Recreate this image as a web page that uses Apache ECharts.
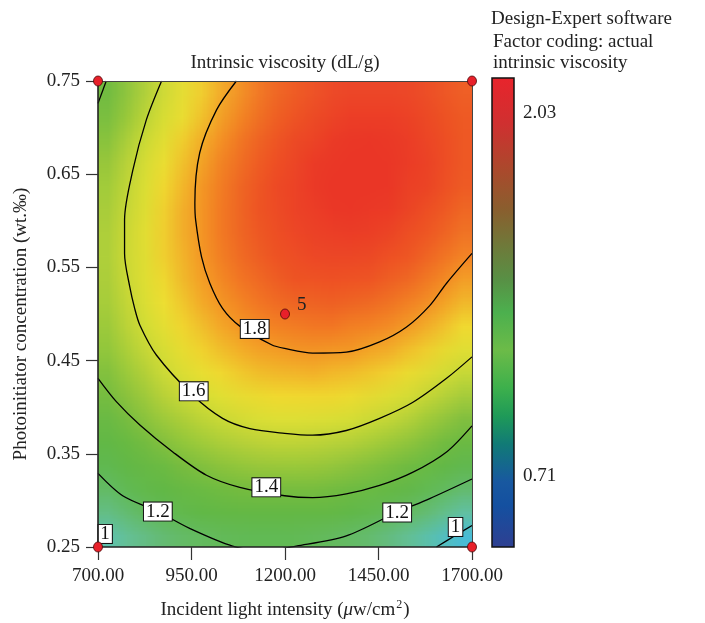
<!DOCTYPE html>
<html><head><meta charset="utf-8">
<script src="https://cdn.jsdelivr.net/npm/echarts@6/dist/echarts.min.js"></script>
<style>
html,body{margin:0;padding:0;background:#fff}
#wrap{position:relative;width:705px;height:623px;overflow:hidden}
#h{position:absolute;left:98px;top:81px;width:20px;height:20px;transform-origin:0 0;transform:scale(18.7,23.3)}
#c{position:absolute;left:0;top:0;width:705px;height:623px;z-index:2}
</style>
</head><body><div id="wrap"><div id="h"></div><div id="c"></div></div>
<script>
// ---- data ----
const heatX = [725,775,825,875,925,975,1025,1075,1125,1175,1225,1275,1325,1375,1425,1475,1525,1575,1625,1675];
const heatY = [0.2625,0.2875,0.3125,0.3375,0.3625,0.3875,0.4125,0.4375,0.4625,0.4875,0.5125,0.5375,0.5625,0.5875,0.6125,0.6375,0.6625,0.6875,0.7125,0.7375];
// rows from bottom (0.2625) to top (0.7375)
const heatValues = [
[1.06,1.10,1.13,1.17,1.19,1.21,1.23,1.24,1.25,1.25,1.25,1.24,1.22,1.20,1.18,1.15,1.11,1.07,1.03,0.98],
[1.13,1.17,1.21,1.25,1.28,1.30,1.32,1.33,1.34,1.34,1.34,1.33,1.32,1.30,1.28,1.25,1.21,1.18,1.13,1.08],
[1.20,1.25,1.29,1.32,1.35,1.38,1.40,1.41,1.42,1.42,1.42,1.42,1.41,1.39,1.37,1.34,1.31,1.27,1.23,1.18],
[1.26,1.31,1.35,1.39,1.42,1.45,1.47,1.48,1.50,1.50,1.50,1.50,1.49,1.47,1.45,1.43,1.40,1.36,1.32,1.28],
[1.32,1.37,1.41,1.45,1.48,1.51,1.53,1.55,1.56,1.57,1.57,1.57,1.56,1.55,1.53,1.51,1.48,1.45,1.41,1.36],
[1.37,1.42,1.47,1.51,1.54,1.57,1.59,1.61,1.63,1.64,1.64,1.64,1.63,1.62,1.60,1.58,1.56,1.52,1.49,1.44],
[1.42,1.47,1.51,1.56,1.59,1.62,1.65,1.67,1.68,1.70,1.70,1.70,1.70,1.69,1.67,1.65,1.63,1.59,1.56,1.52],
[1.45,1.51,1.55,1.60,1.64,1.67,1.70,1.72,1.74,1.75,1.75,1.76,1.75,1.74,1.73,1.71,1.69,1.66,1.63,1.59],
[1.49,1.54,1.59,1.63,1.67,1.71,1.74,1.76,1.78,1.79,1.80,1.81,1.80,1.80,1.78,1.77,1.74,1.72,1.68,1.65],
[1.51,1.57,1.62,1.66,1.71,1.74,1.77,1.80,1.82,1.83,1.84,1.85,1.85,1.84,1.83,1.82,1.80,1.77,1.74,1.70],
[1.53,1.59,1.64,1.69,1.73,1.77,1.80,1.83,1.85,1.87,1.88,1.88,1.89,1.88,1.87,1.86,1.84,1.82,1.79,1.75],
[1.54,1.60,1.66,1.70,1.75,1.79,1.82,1.85,1.87,1.89,1.91,1.91,1.92,1.91,1.91,1.89,1.88,1.85,1.83,1.79],
[1.55,1.61,1.66,1.72,1.76,1.80,1.84,1.87,1.89,1.91,1.93,1.94,1.94,1.94,1.94,1.92,1.91,1.89,1.86,1.83],
[1.55,1.61,1.67,1.72,1.77,1.81,1.85,1.88,1.90,1.93,1.94,1.95,1.96,1.96,1.96,1.95,1.93,1.91,1.89,1.86],
[1.54,1.60,1.66,1.72,1.77,1.81,1.85,1.88,1.91,1.93,1.95,1.96,1.97,1.98,1.97,1.97,1.95,1.93,1.91,1.88],
[1.53,1.59,1.65,1.71,1.76,1.81,1.85,1.88,1.91,1.94,1.95,1.97,1.98,1.98,1.98,1.98,1.96,1.95,1.93,1.90],
[1.51,1.58,1.64,1.70,1.75,1.79,1.84,1.87,1.90,1.93,1.95,1.97,1.98,1.98,1.98,1.98,1.97,1.96,1.94,1.91],
[1.48,1.55,1.62,1.67,1.73,1.78,1.82,1.86,1.89,1.92,1.94,1.96,1.97,1.98,1.98,1.98,1.97,1.96,1.94,1.91],
[1.45,1.52,1.59,1.65,1.70,1.75,1.80,1.84,1.87,1.90,1.93,1.94,1.96,1.97,1.97,1.97,1.96,1.95,1.93,1.91],
[1.41,1.48,1.55,1.61,1.67,1.72,1.77,1.81,1.85,1.88,1.90,1.92,1.94,1.95,1.95,1.95,1.95,1.94,1.92,1.90]
];
const xTicks = [700,950,1200,1450,1700];
const yTicks = [0.25,0.35,0.45,0.55,0.65,0.75];
const contour18 = [[1070,0.75],[1017,0.719],[972,0.673],[959,0.619],[961,0.601],[977,0.561],[999,0.533],[1033,0.506],[1079,0.487],[1164,0.467],[1199,0.463],[1274,0.458],[1364,0.459],[1453,0.470],[1525,0.486],[1587,0.509],[1632,0.533],[1700,0.565]];
const contour16 = [[870,0.75],[829,0.708],[793,0.654],[771,0.601],[771,0.565],[785,0.529],[798,0.506],[812,0.488],[856,0.456],[953,0.413],[1033,0.388],[1106,0.377],[1199,0.372],[1274,0.370],[1364,0.375],[1453,0.388],[1541,0.405],[1632,0.431],[1700,0.454]];
const contour14top = [[722,0.75],[700,0.726]];
const contour14 = [[700,0.431],[749,0.406],[812,0.381],[900,0.352],[990,0.327],[1079,0.314],[1199,0.305],[1274,0.303],[1364,0.307],[1453,0.316],[1541,0.330],[1632,0.352],[1700,0.380]];
const contour12 = [[700,0.329],[766,0.305],[860,0.288],[945,0.270],[1060,0.251],[1145,0.246],[1230,0.251],[1364,0.262],[1498,0.287],[1587,0.302],[1700,0.323]];
const contour10left = [[700,0.257],[710,0.25]];
const contour10right = [[1605,0.25],[1654,0.262],[1700,0.273]];
const contourLabels = [[1119,0.484,'1.8'],[956,0.417,'1.6'],[1150,0.314,'1.4'],[860,0.288,'1.2'],[1500,0.287,'1.2'],[1656,0.2715,'1'],[719,0.264,'1']];
const designPoints = [[700,0.25],[1700,0.25],[700,0.75],[1700,0.75],[1200,0.5]];
const centerPointLabel = '5';
const colorbarLabels = ['2.03','0.71'];
const legendLines = ['Design-Expert software','Factor coding: actual','intrinsic viscosity'];
const chartTitle = 'Intrinsic viscosity (dL/g)';
const yAxisName = 'Photoinitiator concentration (wt.\u2030)';

// ---- heatmap (drawn small, displayed smoothly scaled to the plot area) ----
const FONT = 'Liberation Serif';
const heatData = [];
heatValues.forEach((row, j) => row.forEach((v, i) => heatData.push([i, j, v])));

const heat = echarts.init(document.getElementById('h'), null, { renderer: 'canvas', devicePixelRatio: 1 });
heat.setOption({
  animation: false,
  grid: { left: 0, right: 0, top: 0, bottom: 0, outerBoundsMode: 'none', containLabel: false },
  xAxis: { type: 'category', data: heatX, show: false },
  yAxis: { type: 'category', data: heatY, show: false },
  visualMap: {
    type: 'continuous', show: false, min: 0.9, max: 2.0,
    inRange: { color: ['#1ea6f2','#48bee2','#66c3a8','#66bd70','#60b84c','#68b944','#8dc43e','#c5d73a','#eee434','#f4a028','#ef5f26','#e92f2a'] }
  },
  series: [{ type: 'heatmap', data: heatData, silent: true, itemStyle: { borderWidth: 0 }, emphasis: { disabled: true } }]
});

// ---- main chart ----
function contourSeries(pts) {
  return {
    type: 'line', data: pts, showSymbol: false, symbol: 'none',
    smooth: 0.3, clip: true, silent: true, z: 5,
    lineStyle: { color: '#000', width: 1.3 }
  };
}

const chart = echarts.init(document.getElementById('c'), null, { renderer: 'canvas' });
const option = {
  animation: false,
  backgroundColor: 'transparent',
  grid: { left: 98, top: 81, width: 374, height: 466, outerBoundsMode: 'none', containLabel: false },
  xAxis: [
    { type: 'value', min: 700, max: 1700, z: 10,
      splitLine: { show: false },
      axisLine: { show: true, onZero: false, lineStyle: { color: '#222', width: 1.6 } },
      axisTick: { show: true, customValues: xTicks, length: 13, lineStyle: { color: '#333', width: 1.2 } },
      axisLabel: { customValues: xTicks, formatter: v => Number(v).toFixed(2), margin: 20,
        fontFamily: FONT, fontSize: 19, color: '#222' },
      name: '{n|Incident light intensity (}{i|\u03bc}{n|w/cm}{s|2}{n|)}',
      nameLocation: 'middle', nameGap: 52,
      nameTextStyle: { fontFamily: FONT, fontSize: 19, color: '#222',
        rich: { n: { fontFamily: FONT, fontSize: 19, color: '#222' },
                i: { fontFamily: FONT, fontSize: 19, fontStyle: 'italic', color: '#222' },
                s: { fontFamily: FONT, fontSize: 12, color: '#222', verticalAlign: 'top', padding: [0, 1, 10, 1] } } }
    },
    { type: 'value', min: 700, max: 1700, position: 'top', z: 10,
      splitLine: { show: false }, axisTick: { show: false }, axisLabel: { show: false },
      axisLine: { show: true, onZero: false, lineStyle: { color: '#444', width: 1 } } }
  ],
  yAxis: [
    { type: 'value', min: 0.25, max: 0.75, z: 10,
      splitLine: { show: false },
      axisLine: { show: true, onZero: false, lineStyle: { color: '#222', width: 1.6 } },
      axisTick: { show: true, customValues: yTicks, length: 12, lineStyle: { color: '#333', width: 1.2 } },
      axisLabel: { customValues: yTicks, formatter: v => Number(v).toFixed(2), margin: 18,
        fontFamily: FONT, fontSize: 19, color: '#222' },
      name: yAxisName, nameLocation: 'middle', nameGap: 67,
      nameTextStyle: { fontFamily: FONT, fontSize: 19, color: '#222', padding: [0, 20, 0, 0] }
    },
    { type: 'value', min: 0.25, max: 0.75, position: 'right', z: 10,
      splitLine: { show: false }, axisTick: { show: false }, axisLabel: { show: false },
      axisLine: { show: true, onZero: false, lineStyle: { color: '#444', width: 1 } } }
  ],
  graphic: [
    { type: 'text', x: 285, y: 63, style: { text: chartTitle, font: '19px "' + FONT + '"', fill: '#222', textAlign: 'center', textVerticalAlign: 'middle' } },
    { type: 'text', x: 491, y: 19, style: { text: legendLines[0], font: '19px "' + FONT + '"', fill: '#222', textAlign: 'left', textVerticalAlign: 'middle' } },
    { type: 'text', x: 493, y: 42, style: { text: legendLines[1], font: '19px "' + FONT + '"', fill: '#222', textAlign: 'left', textVerticalAlign: 'middle' } },
    { type: 'text', x: 493, y: 63, style: { text: legendLines[2], font: '19px "' + FONT + '"', fill: '#222', textAlign: 'left', textVerticalAlign: 'middle' } },
    { type: 'rect', shape: { x: 492, y: 78, width: 22, height: 469 },
      style: { fill: new echarts.graphic.LinearGradient(0, 0, 0, 1, [
        { offset: 0, color: '#e8242c' }, { offset: 0.1, color: '#cf3030' }, { offset: 0.2, color: '#a94a2c' },
        { offset: 0.28, color: '#8a5e2e' }, { offset: 0.36, color: '#6e7a3a' }, { offset: 0.43, color: '#589045' },
        { offset: 0.5, color: '#4cb04e' }, { offset: 0.58, color: '#6cbb48' }, { offset: 0.66, color: '#3db04c' },
        { offset: 0.72, color: '#1f9a58' }, { offset: 0.78, color: '#117a76' }, { offset: 0.86, color: '#1858a0' },
        { offset: 0.91, color: '#1450a0' }, { offset: 1, color: '#2f3f91' } ]),
        stroke: '#111', lineWidth: 1.5 } },
    { type: 'text', x: 523, y: 113, style: { text: colorbarLabels[0], font: '19px "' + FONT + '"', fill: '#222', textAlign: 'left', textVerticalAlign: 'middle' } },
    { type: 'text', x: 523, y: 476, style: { text: colorbarLabels[1], font: '19px "' + FONT + '"', fill: '#222', textAlign: 'left', textVerticalAlign: 'middle' } }
  ],
  series: [
    contourSeries(contour18), contourSeries(contour16), contourSeries(contour14top), contourSeries(contour14),
    contourSeries(contour12), contourSeries(contour10left), contourSeries(contour10right),
    { type: 'scatter', z: 8, silent: true, symbolSize: 1,
      itemStyle: { color: 'rgba(0,0,0,0)', opacity: 1 },
      data: contourLabels.map(d => ({ value: [d[0], d[1]], name: d[2] })),
      label: { show: true, position: 'inside', formatter: p => p.name, fontFamily: FONT, fontSize: 19, opacity: 1,
        color: '#111', backgroundColor: '#fff', borderColor: '#111', borderWidth: 1, padding: [1, 2, 0, 2], lineHeight: 17 } },
    { type: 'scatter', z: 12, silent: true, clip: false,
      symbol: 'circle', symbolSize: [9, 10],
      itemStyle: { color: '#e8202a', borderColor: '#4a0a0a', borderWidth: 0.8, opacity: 1 },
      data: designPoints.map((p, k) => k === 4
        ? { value: p, label: { show: true, formatter: centerPointLabel, position: 'right', offset: [2, -9],
            fontFamily: FONT, fontSize: 19, color: '#222', opacity: 1 } }
        : { value: p }) }
  ]
};
chart.setOption(option);
</script>
</body></html>
